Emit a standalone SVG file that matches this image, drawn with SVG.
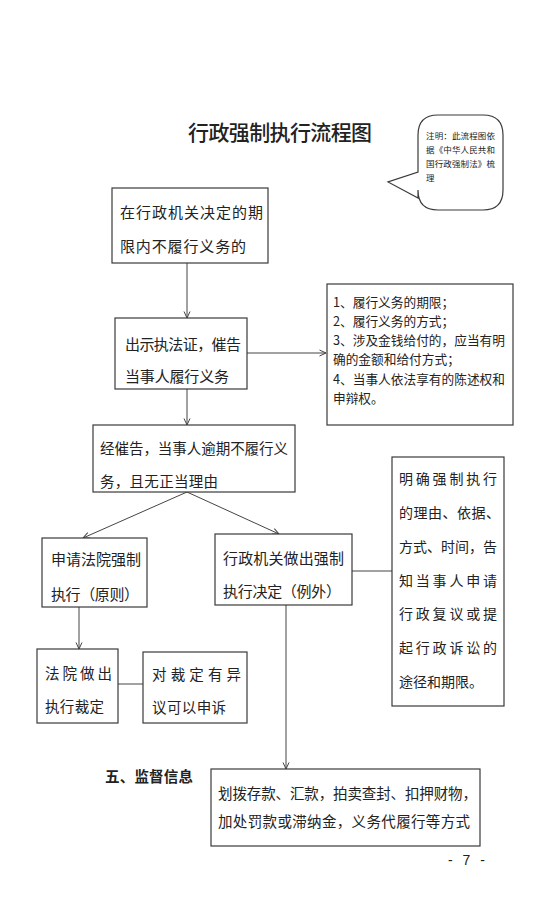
<svg xmlns="http://www.w3.org/2000/svg" width="554" height="915" viewBox="0 0 554 915">
<defs>
<style>
.bx{fill:#fff;stroke:#3a3a3a;stroke-width:1.2}
.t{font-family:"Noto Sans CJK SC","Noto Sans",sans-serif;fill:#222;dominant-baseline:central}
.c{fill:none;stroke:#444;stroke-width:1}
</style>
<marker id="ah" viewBox="0 0 8 8" refX="7.5" refY="4" markerWidth="8" markerHeight="8" markerUnits="userSpaceOnUse" orient="auto">
<path d="M1,1 L7.5,4 L1,7" fill="none" stroke="#444" stroke-width="1"/>
</marker>
</defs>
<rect width="554" height="915" fill="#fff"/>

<text class="t" x="188" y="131" font-size="21" font-weight="500" textLength="184">行政强制执行流程图</text>

<g id="note">
<path class="bx" d="M438,115 H483 Q503,115 503,135 V190 Q503,210 483,210 H438 Q418,210 418,190 V198 L388,182 L418,172 V135 Q418,115 438,115 Z"/>
<text class="t" font-size="8.5" x="426" y="135" textLength="69">注明：此流程图依</text>
<text class="t" font-size="8.5" x="426" y="149" textLength="69">据《中华人民共和</text>
<text class="t" font-size="8.5" x="426" y="163" textLength="69">国行政强制法》梳</text>
<text class="t" font-size="8.5" x="426" y="177">理</text>
</g>

<g id="connectors">
<line class="c" x1="187" y1="263" x2="187" y2="318" marker-end="url(#ah)"/>
<line class="c" x1="247" y1="353" x2="326" y2="353" marker-end="url(#ah)"/>
<line class="c" x1="187" y1="389" x2="187" y2="425" marker-end="url(#ah)"/>
<line class="c" x1="187" y1="492" x2="83" y2="538" marker-end="url(#ah)"/>
<line class="c" x1="187" y1="492" x2="279" y2="534" marker-end="url(#ah)"/>
<line class="c" x1="352" y1="571" x2="392" y2="571"/>
<line class="c" x1="286" y1="605" x2="286" y2="769" marker-end="url(#ah)"/>
<line class="c" x1="79" y1="607" x2="79" y2="649" marker-end="url(#ah)"/>
<line class="c" x1="118" y1="684" x2="143" y2="684"/>
</g>

<g id="n1">
<rect class="bx" x="112" y="188" width="156" height="75"/>
<text class="t" font-size="15" x="120" y="211" textLength="143">在行政机关决定的期</text>
<text class="t" font-size="15" x="120" y="245" textLength="126">限内不履行义务的</text>
</g>

<g id="n2">
<rect class="bx" x="115" y="318" width="132" height="71"/>
<text class="t" font-size="15" x="125" y="343" textLength="116">出示执法证，催告</text>
<text class="t" font-size="15" x="125" y="375" textLength="104">当事人履行义务</text>
</g>

<g id="n3">
<rect class="bx" x="327" y="284" width="186" height="141"/>
<text class="t" font-size="12.7" x="333" y="301">1、履行义务的期限；</text>
<text class="t" font-size="12.7" x="333" y="320">2、履行义务的方式；</text>
<text class="t" font-size="12.7" x="333" y="339">3、涉及金钱给付的，应当有明</text>
<text class="t" font-size="12.7" x="333" y="358">确的金额和给付方式；</text>
<text class="t" font-size="12.7" x="333" y="378">4、当事人依法享有的陈述权和</text>
<text class="t" font-size="12.7" x="333" y="397">申辩权。</text>
</g>

<g id="n4">
<rect class="bx" x="93" y="425" width="202" height="67"/>
<text class="t" font-size="14.5" x="100" y="447" textLength="188">经催告，当事人逾期不履行义</text>
<text class="t" font-size="14.5" x="100" y="480" textLength="118">务，且无正当理由</text>
</g>

<g id="n5">
<rect class="bx" x="42" y="538" width="105" height="69"/>
<text class="t" font-size="15" x="51" y="558" textLength="90">申请法院强制</text>
<text class="t" font-size="15" x="51" y="593" textLength="88">执行（原则）</text>
</g>

<g id="n6">
<rect class="bx" x="215" y="534" width="137" height="71"/>
<text class="t" font-size="15" x="223" y="557" textLength="121">行政机关做出强制</text>
<text class="t" font-size="15" x="223" y="590" textLength="118">执行决定（例外）</text>
</g>

<g id="n7">
<rect class="bx" x="392" y="457" width="112" height="249"/>
<text class="t" font-size="14" x="399" y="478" textLength="98">明确强制执行</text>
<text class="t" font-size="14" x="399" y="512" textLength="101">的理由、依据、</text>
<text class="t" font-size="14" x="399" y="546" textLength="98">方式、时间，告</text>
<text class="t" font-size="14" x="399" y="580" textLength="98">知当事人申请</text>
<text class="t" font-size="14" x="399" y="613" textLength="98">行政复议或提</text>
<text class="t" font-size="14" x="399" y="647" textLength="98">起行政诉讼的</text>
<text class="t" font-size="14" x="399" y="681">途径和期限。</text>
</g>

<g id="n8">
<rect class="bx" x="37" y="649" width="81" height="74"/>
<text class="t" font-size="14.5" x="45" y="672" textLength="67">法院做出</text>
<text class="t" font-size="14.5" x="45" y="705" textLength="59">执行裁定</text>
</g>

<g id="n9">
<rect class="bx" x="143" y="652" width="104" height="71"/>
<text class="t" font-size="14.5" x="152" y="673" textLength="89">对裁定有异</text>
<text class="t" font-size="14.5" x="152" y="706" textLength="74">议可以申诉</text>
</g>

<text class="t" font-size="14.5" font-weight="bold" x="105" y="775" textLength="88">五、监督信息</text>

<g id="n10">
<rect class="bx" x="211" y="769" width="269" height="77"/>
<text class="t" font-size="14.5" x="218" y="792" textLength="259">划拨存款、汇款，拍卖查封、扣押财物，</text>
<text class="t" font-size="14.5" x="218" y="820" textLength="252">加处罚款或滞纳金，义务代履行等方式</text>
</g>

<text x="448" y="865" font-family="Liberation Sans, sans-serif" font-size="14" fill="#222" textLength="37">- 7 -</text>
</svg>
